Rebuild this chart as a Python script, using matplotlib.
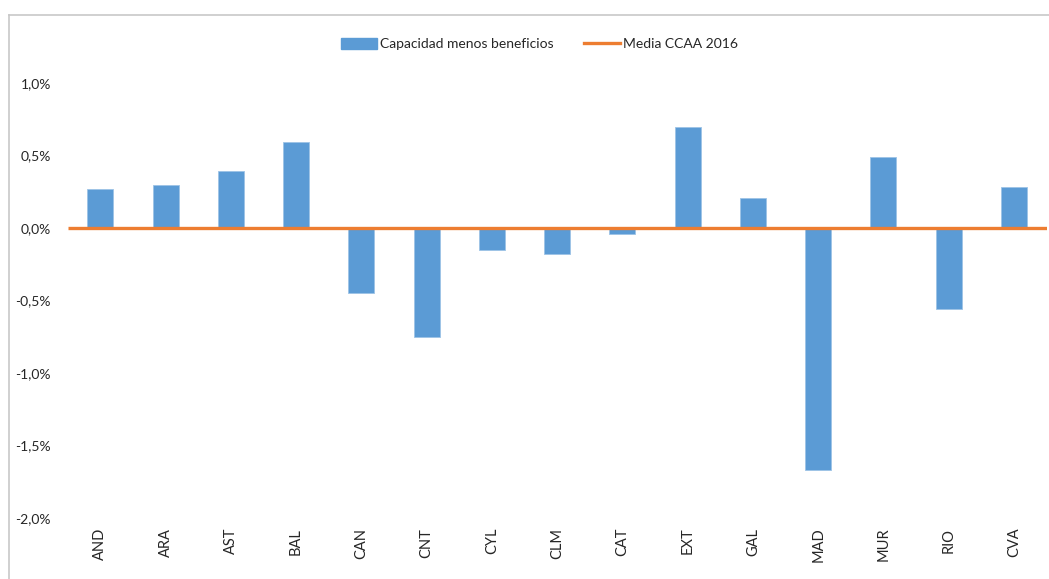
import matplotlib.pyplot as plt
from matplotlib.lines import Line2D
from matplotlib.ticker import FuncFormatter

# Datos (%)
regiones = ["AND", "ARA", "AST", "BAL", "CAN", "CNT", "CYL", "CLM",
            "CAT", "EXT", "GAL", "MAD", "MUR", "RIO", "CVA"]
capacidad = [0.27, 0.30, 0.39, 0.59, -0.45, -0.75, -0.15, -0.18,
             -0.04, 0.70, 0.21, -1.67, 0.49, -0.56, 0.28]
media_ccaa = 0.0

azul = '#5B9BD5'
naranja = '#ED7D31'

plt.rcParams['font.family'] = ['Lato', 'DejaVu Sans']

fig = plt.figure(figsize=(10.49, 5.79), dpi=100)
ax = fig.add_axes([0.0645, 0.1054, 0.9332, 0.7512])

x = range(len(regiones))
ax.bar(x, capacidad, width=0.4, color=azul, edgecolor='#9DC3E6', linewidth=0.6,
       label='Capacidad menos beneficios', zorder=2)
ax.plot([-0.5, len(regiones) - 0.5], [media_ccaa, media_ccaa], color=naranja,
        lw=2.4, label='Media CCAA 2016', zorder=3, solid_capstyle='butt')

ax.set_xlim(-0.5, len(regiones) - 0.5)
ax.set_ylim(-2.0, 1.0)
ax.set_yticks([1.0, 0.5, 0.0, -0.5, -1.0, -1.5, -2.0])
ax.yaxis.set_major_formatter(FuncFormatter(lambda v, p: f"{v:.1f}%".replace('.', ',')))
ax.set_xticks(list(x))
ax.set_xticklabels(regiones, rotation=90)
ax.tick_params(axis='y', length=0, pad=12, labelsize=10, colors='#262626')
ax.tick_params(axis='x', length=0, pad=7, labelsize=10.5, colors='#262626')
for s in ax.spines.values():
    s.set_visible(False)

handles = [plt.Rectangle((0, 0), 1, 1, color=azul),
           Line2D([0], [0], color=naranja, lw=2.4)]
fig.legend(handles, ['Capacidad menos beneficios', 'Media CCAA 2016'],
           loc='center', bbox_to_anchor=(0.514, 0.924), ncol=2, frameon=False,
           fontsize=10, handlelength=2.6, handleheight=0.8, columnspacing=2.2,
           handletextpad=0.2, labelcolor='#262626')

# marco gris
fig.add_artist(Line2D([9 / 1049, 9 / 1049], [0, 1 - 15 / 579], color='#C8C8C8', lw=1.2))
fig.add_artist(Line2D([9 / 1049, 1], [1 - 15 / 579, 1 - 15 / 579], color='#C8C8C8', lw=1.2))

fig.savefig('out.png', dpi=100)
